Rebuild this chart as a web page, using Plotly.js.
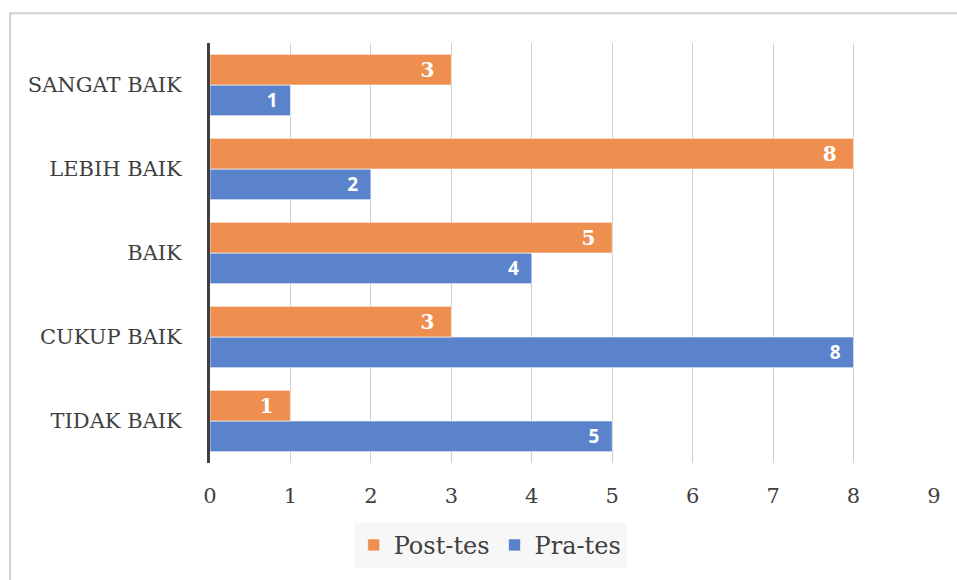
<!DOCTYPE html>
<html>
<head>
<meta charset="utf-8">
<script src="https://cdn.plot.ly/plotly-3.0.1.min.js"></script>
<style>
html,body{margin:0;padding:0;background:#fff;}
#chart{width:957px;height:580px;}
</style>
</head>
<body>
<div id="chart"></div>
<script>
const categories = ['TIDAK BAIK', 'CUKUP BAIK', 'BAIK', 'LEBIH BAIK', 'SANGAT BAIK'];
const postTes = [1, 3, 5, 8, 3];
const praTes = [5, 8, 4, 2, 1];
const xTicks = [0, 1, 2, 3, 4, 5, 6, 7, 8, 9];

const SERIF = 'DejaVu Serif';
const SANS = 'Open Sans';
const PAD = '\u00a0\u00a0';

const praTrace = {
  type: 'bar', orientation: 'h', name: 'Pra-tes',
  y: categories, x: praTes,
  text: praTes.map(v => String(v) + PAD), textposition: 'inside', insidetextanchor: 'end',
  textangle: 0, constraintext: 'none',
  textfont: {family: SANS, size: 19, color: '#ffffff', weight: 'bold'},
  marker: {color: '#5B83CC', line: {color: 'rgba(255,255,255,0.6)', width: 1}},
  hoverinfo: 'none'
};
const postTrace = {
  type: 'bar', orientation: 'h', name: 'Post-tes',
  y: categories, x: postTes,
  text: postTes.map(v => String(v) + PAD), textposition: 'inside', insidetextanchor: 'end',
  textangle: 0, constraintext: 'none',
  textfont: {family: SERIF, size: 20, color: '#ffffff', weight: 'bold'},
  marker: {color: '#EE8F4F', line: {color: 'rgba(255,255,255,0.6)', width: 1}},
  hoverinfo: 'none'
};

const layout = {
  width: 957, height: 580,
  margin: {l: 210, r: 23, t: 43, b: 114},
  paper_bgcolor: '#ffffff', plot_bgcolor: '#ffffff',
  barmode: 'group', bargap: 0.27, bargroupgap: 0,
  font: {family: SERIF, color: '#404040', size: 20},
  xaxis: {
    range: [0, 9], tickvals: xTicks, ticktext: xTicks.map(String),
    showgrid: true, gridcolor: '#cfcfcf', gridwidth: 1,
    zeroline: false, showline: false, ticks: '',
    ticklabelstandoff: 18,
    tickfont: {family: SERIF, size: 21, color: '#404040'}
  },
  yaxis: {
    type: 'category', categoryorder: 'array', categoryarray: categories,
    range: [-0.5, 4.5],
    showgrid: false, zeroline: false,
    showline: true, linecolor: '#404040', linewidth: 3,
    ticks: '', ticklabelstandoff: 21,
    tickfont: {family: SERIF, size: 21, color: '#404040'}
  },
  showlegend: true,
  legend: {
    orientation: 'h', traceorder: 'reversed',
    x: 0.387, xanchor: 'center', y: -0.196, yanchor: 'middle',
    bgcolor: '#f7f7f7', borderwidth: 0,
    font: {family: SERIF, size: 24, color: '#404040'},
    itemwidth: 30
  },
  shapes: [{
    type: 'rect', xref: 'paper', yref: 'paper',
    x0: -0.276, x1: 1.05, y0: -0.35, y1: 1.0709,
    line: {color: '#d0d0d0', width: 2}, fillcolor: 'rgba(0,0,0,0)', layer: 'below'
  }]
};

Plotly.newPlot('chart', [praTrace, postTrace], layout, {displayModeBar: false, staticPlot: true});
</script>
</body>
</html>
